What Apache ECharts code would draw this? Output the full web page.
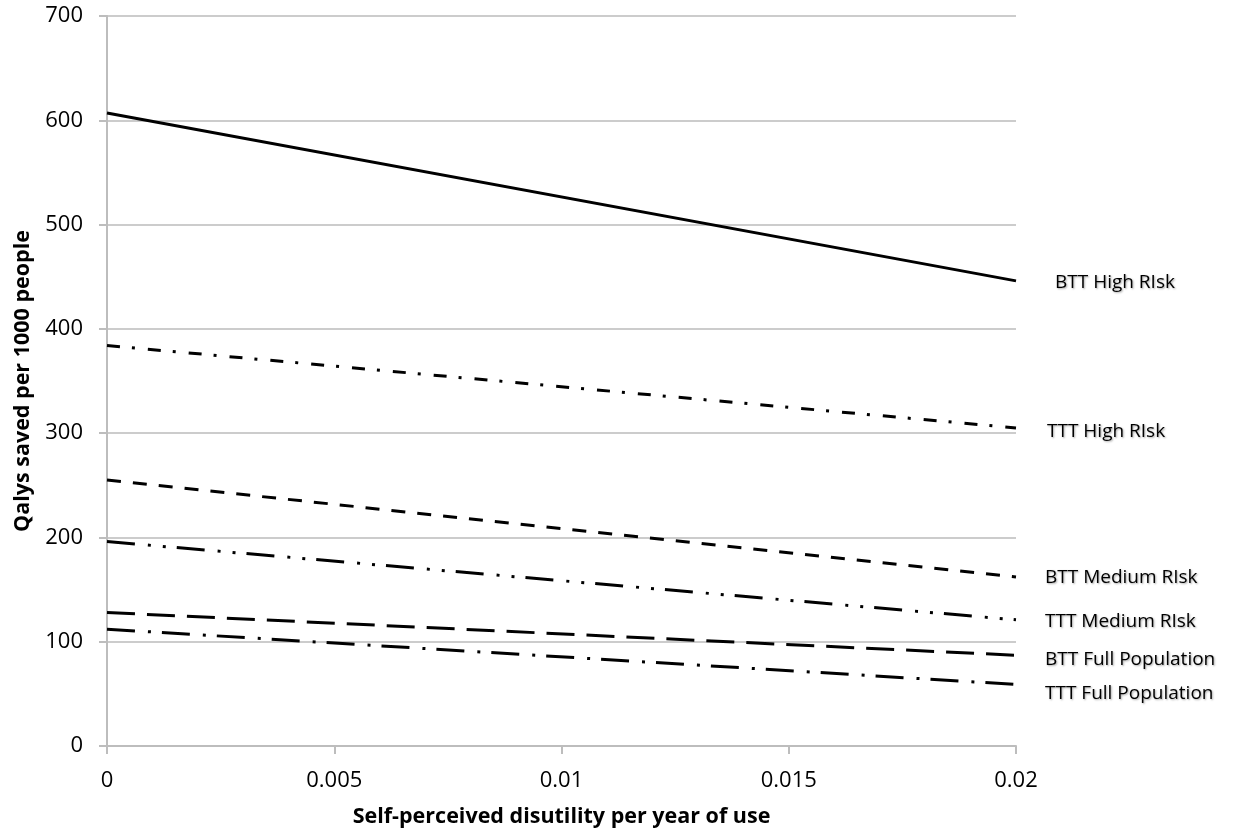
<!DOCTYPE html>
<html>
<head>
<meta charset="utf-8">
<script src="https://cdn.jsdelivr.net/npm/echarts@6/dist/echarts.min.js"></script>
<style>html,body{margin:0;padding:0;background:#fff}#c{width:1235px;height:836px}</style>
</head>
<body>
<div id="c"></div>
<script>
const xValues = [0, 0.02];
const seriesNames = ['BTT High RIsk', 'TTT High RIsk', 'BTT Medium RIsk', 'TTT Medium RIsk', 'BTT Full Population', 'TTT Full Population'];
const bttHigh = [607, 446];
const tttHigh = [384, 305];
const bttMedium = [255, 162];
const tttMedium = [196, 121];
const bttFull = [128, 87];
const tttFull = [112, 59];
const xTicks = [0, 0.005, 0.01, 0.015, 0.02];

const allValues = [bttHigh, tttHigh, bttMedium, tttMedium, bttFull, tttFull];
const dashes = ['solid', [13, 12, 3, 13], [14, 12], [28, 13, 3, 12, 3, 11], [28, 12], [28, 13, 3, 11]];
const labelOffsets = [[31, 2], [23, 4], [21, 1], [21, 2], [21, 4], [21, 9]];
const FONT = 'Open Sans';

const chart = echarts.init(document.getElementById('c'));
chart.setOption({
  animation: false,
  grid: { left: 107, right: 219, top: 16, bottom: 90 },
  xAxis: {
    type: 'value', min: 0, max: 0.02, interval: 0.005,
    name: 'Self-perceived disutility per year of use',
    nameLocation: 'middle', nameGap: 60,
    nameTextStyle: { fontFamily: FONT, fontWeight: 'bold', fontSize: 21.5, color: '#000' },
    axisLine: { show: true, lineStyle: { color: '#bdbdbd', width: 2 } },
    axisTick: { show: true, length: 8, lineStyle: { color: '#bdbdbd', width: 2 } },
    axisLabel: { fontFamily: FONT, fontSize: 22, color: '#000', margin: 24,
      formatter: v => String(xTicks.find(t => Math.abs(t - v) < 1e-9) ?? v) },
    splitLine: { show: false }
  },
  yAxis: {
    type: 'value', min: 0, max: 700, interval: 100,
    name: 'Qalys saved per 1000 people',
    nameLocation: 'middle', nameGap: 71, nameRotate: 90,
    nameTextStyle: { fontFamily: FONT, fontWeight: 'bold', fontSize: 21.5, color: '#000' },
    axisLine: { show: true, lineStyle: { color: '#bdbdbd', width: 2 } },
    axisTick: { show: true, length: 8, lineStyle: { color: '#bdbdbd', width: 2 } },
    axisLabel: { fontFamily: FONT, fontSize: 22, color: '#000', margin: 24 },
    splitLine: { show: true, lineStyle: { color: '#cccccc', width: 2 } }
  },
  series: allValues.map((vals, i) => ({
    name: seriesNames[i],
    type: 'line',
    data: xValues.map((x, j) => [x, vals[j]]),
    symbol: 'none',
    lineStyle: { color: '#000', width: 3, type: dashes[i] },
    endLabel: {
      show: true,
      formatter: seriesNames[i],
      fontFamily: FONT, fontSize: 19, color: '#000',
      offset: labelOffsets[i],
      textShadowColor: 'rgba(0,0,0,0.35)', textShadowBlur: 2, textShadowOffsetX: 1, textShadowOffsetY: 1
    }
  }))
});
</script>
</body>
</html>
